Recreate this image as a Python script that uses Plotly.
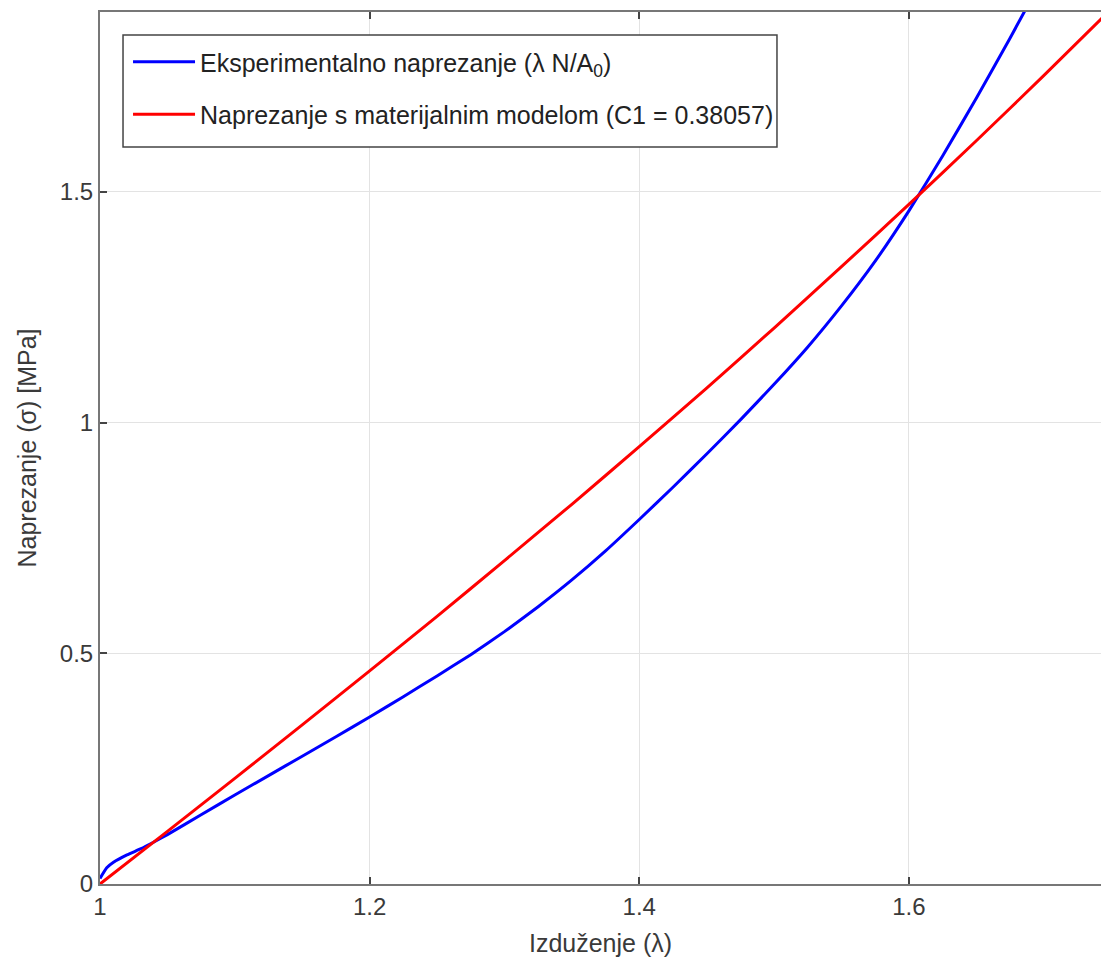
import plotly.graph_objects as go

lam_exp = [1.000, 1.005, 1.010, 1.020, 1.030, 1.040, 1.050, 1.075, 1.100, 1.125,
           1.150, 1.175, 1.200, 1.225, 1.250, 1.275, 1.300, 1.325, 1.350, 1.375,
           1.400, 1.425, 1.450, 1.475, 1.500, 1.525, 1.550, 1.575, 1.600, 1.625,
           1.650, 1.675, 1.700]
sig_exp = [0.012, 0.035, 0.047, 0.063, 0.076, 0.091, 0.107, 0.150, 0.193, 0.235,
           0.277, 0.319, 0.362, 0.406, 0.451, 0.497, 0.547, 0.601, 0.659, 0.722,
           0.790, 0.860, 0.932, 1.006, 1.083, 1.164, 1.253, 1.350, 1.459, 1.578,
           1.703, 1.833, 1.968]

# Model stress (red)
lam_mod = [1.00, 1.05, 1.10, 1.15, 1.20, 1.25, 1.30, 1.35, 1.40, 1.45,
           1.50, 1.55, 1.60, 1.65, 1.70, 1.75]
sig_mod = [0.000, 0.114, 0.229, 0.345, 0.462, 0.580, 0.701, 0.823, 0.948, 1.075,
           1.205, 1.338, 1.473, 1.611, 1.752, 1.896]

x_ticks = [1, 1.2, 1.4, 1.6]
x_ticklabels = ["1", "1.2", "1.4", "1.6"]
y_ticks = [0, 0.5, 1, 1.5]
y_ticklabels = ["0", "0.5", "1", "1.5"]

FONT = "Liberation Sans, Arial, sans-serif"
TXT = "#3a3a3a"

fig = go.Figure()
fig.add_trace(go.Scatter(
    x=lam_exp, y=sig_exp, mode="lines",
    name="Eksperimentalno naprezanje (λ N/A<sub>0</sub>)",
    line=dict(color="#0000ff", width=3, shape="spline", smoothing=0.4),
    legendgroup="a"))
fig.add_trace(go.Scatter(
    x=lam_mod, y=sig_mod, mode="lines",
    name="Naprezanje s materijalnim modelom (C1 = 0.38057)",
    line=dict(color="#ff0000", width=3, shape="spline", smoothing=0.6),
    legendgroup="b"))

axis_common = dict(
    showgrid=True, gridcolor="#e3e3e3", gridwidth=1,
    showline=True, linecolor="#777777", linewidth=2,
    ticks="inside", ticklen=7, tickcolor="#444444", tickwidth=1.5,
    zeroline=False, automargin=False,
    tickfont=dict(family=FONT, size=24, color=TXT),
)

# legend frame (drawn as a shape so it can match the reference box)
fig.add_shape(type="rect", xref="paper", yref="paper",
              x0=0.023, x1=0.6763, y0=0.8452, y1=0.9736,
              line=dict(color="#444444", width=1.5), fillcolor="white",
              layer="above")

fig.update_layout(
    width=1101, height=970,
    margin=dict(l=100, r=0, t=12, b=86),
    paper_bgcolor="white", plot_bgcolor="white",
    font=dict(family=FONT, color=TXT),
    showlegend=True,
    legend=dict(
        x=0.028, y=0.969, xanchor="left", yanchor="top",
        bgcolor="rgba(0,0,0,0)", borderwidth=0,
        font=dict(family=FONT, size=25, color="#222222"),
        traceorder="grouped", tracegroupgap=17, itemwidth=62,
    ),
    xaxis=dict(
        range=[1, 1.7425], tickvals=x_ticks, ticktext=x_ticklabels,
        mirror="ticks",
        title=dict(text="Izduženje (λ)", font=dict(family=FONT, size=25, color=TXT), standoff=16),
        **axis_common),
    yaxis=dict(
        range=[0, 1.890], tickvals=y_ticks, ticktext=y_ticklabels,
        title=dict(text="Naprezanje (σ) [MPa]", font=dict(family=FONT, size=25, color=TXT), standoff=16),
        **axis_common),
)

fig.write_html(
    "out.html",
    config={"displayModeBar": False},
    post_script="document.body.style.margin='0';document.body.style.overflow='hidden';",
)
